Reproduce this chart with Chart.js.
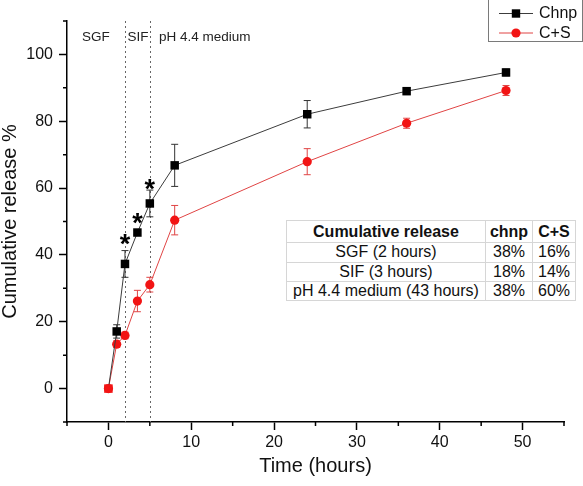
<!DOCTYPE html>
<html>
<head>
<meta charset="utf-8">
<script src="https://cdn.jsdelivr.net/npm/chart.js@4.4.1/dist/chart.umd.min.js"></script>
<style>
body { margin: 0; background: #fff; }
#wrap { position: relative; width: 583px; height: 486px; }
#releaseTable {
    position: absolute; left: 286px; top: 220px; width: 289px;
    border-collapse: collapse; table-layout: fixed; background: #fff;
    border: 1.5px solid #8a8a8a;
    font-family: "Liberation Sans", Arial, sans-serif; font-size: 16px; color: #111;
}
#releaseTable td { border: 1px solid #d6d6d6; padding: 0; text-align: center; line-height: 1; white-space: nowrap; }
#releaseTable tr.head td { font-weight: bold; height: 21px; }
</style>
</head>
<body>
<div id="wrap">
<canvas id="canvas" width="583" height="486"></canvas>
<table id="releaseTable"></table>
</div>
<script>
// time points (hours) and cumulative release values (%)
var hours = [0, 1, 2, 3.5, 5, 8, 24, 36, 48];
var chnpRelease = [0, 17.1, 37.3, 46.7, 55.4, 66.8, 82.1, 89.0, 94.6];
var chnpError   = [0, 2.0, 4.0, 0.6, 4.0, 6.3, 4.1, 1.0, 1.0];
var csRelease   = [0, 13.3, 15.9, 26.2, 31.1, 50.4, 67.9, 79.4, 89.2];
var csError     = [0, 1.0, 1.0, 3.2, 2.2, 4.4, 3.9, 1.5, 1.5];

// significance marks
var starHours  = [2, 3.5, 5];
var starLevels = [45.3, 51.6, 61.6];

// medium changes
var phaseBounds = [2, 5];
var phaseNames  = ["SGF", "SIF", "pH 4.4 medium"];
var phaseStart  = [-3.2, 2.3, 6.1];
var phaseLevel  = 105.2;

var xTickLabels = [0, 10, 20, 30, 40, 50];
var yTickLabels = [0, 20, 40, 60, 80, 100];

// inset table
var tableHeader = ["Cumulative release", "chnp", "C+S"];
var tableStages = ["SGF (2 hours)", "SIF (3 hours)", "pH 4.4 medium (43 hours)"];
var tableChnp   = ["38%", "18%", "38%"];
var tableCS     = ["16%", "14%", "60%"];

var FONT = '"Liberation Sans", Arial, sans-serif';
var RED = "#f21414";
var RED_LINE = "#e04444";

// build table
var tbl = document.getElementById("releaseTable");
var html = '<colgroup><col style="width:199px"><col style="width:47px"><col style="width:43px"></colgroup>';
html += '<tr class="head"><td>' + tableHeader.join('</td><td>') + '</td></tr>';
var rowH = [19.5, 19, 19.5];
for (var r = 0; r < tableStages.length; r++) {
    html += '<tr style="height:' + rowH[r] + 'px"><td>' + tableStages[r] + '</td><td>' + tableChnp[r] + '</td><td>' + tableCS[r] + '</td></tr>';
}
tbl.innerHTML = html;

function toPoints(xs, ys) {
    var out = [];
    for (var i = 0; i < xs.length; i++) out.push({x: xs[i], y: ys[i]});
    return out;
}

function drawErrorBars(chart, ys, errs, color) {
    var ctx = chart.ctx, xs = chart.scales.x, yS = chart.scales.y;
    ctx.save();
    ctx.strokeStyle = color;
    ctx.lineWidth = 1;
    for (var i = 0; i < hours.length; i++) {
        if (!errs[i]) continue;
        var px = xs.getPixelForValue(hours[i]);
        var top = yS.getPixelForValue(ys[i] + errs[i]);
        var bot = yS.getPixelForValue(ys[i] - errs[i]);
        ctx.beginPath();
        ctx.moveTo(px, top); ctx.lineTo(px, bot);
        ctx.moveTo(px - 3.5, top); ctx.lineTo(px + 3.5, top);
        ctx.moveTo(px - 3.5, bot); ctx.lineTo(px + 3.5, bot);
        ctx.stroke();
    }
    ctx.restore();
}

var extras = {
    id: "releaseExtras",
    beforeDatasetsDraw: function(chart) {
        var ctx = chart.ctx, a = chart.chartArea, xs = chart.scales.x;
        ctx.save();
        ctx.strokeStyle = "#666";
        ctx.lineWidth = 1;
        ctx.setLineDash([2, 3]);
        phaseBounds.forEach(function(b) {
            var px = Math.round(xs.getPixelForValue(b)) + 0.5;
            ctx.beginPath();
            ctx.moveTo(px, a.top);
            ctx.lineTo(px, a.bottom);
            ctx.stroke();
        });
        ctx.restore();
        drawErrorBars(chart, chnpRelease, chnpError, "#333");
        drawErrorBars(chart, csRelease, csError, RED_LINE);
    },
    afterDatasetsDraw: function(chart) {
        var ctx = chart.ctx, xs = chart.scales.x, yS = chart.scales.y;
        ctx.save();
        ctx.fillStyle = "#000";
        ctx.font = "bold 27px " + FONT;
        ctx.textAlign = "center";
        ctx.textBaseline = "alphabetic";
        for (var i = 0; i < starHours.length; i++) {
            ctx.fillText("*", xs.getPixelForValue(starHours[i]), yS.getPixelForValue(starLevels[i]) + 27 * 0.57);
        }
        ctx.restore();
    },
    afterDraw: function(chart) {
        var ctx = chart.ctx, a = chart.chartArea, xs = chart.scales.x, yS = chart.scales.y;
        ctx.save();
        // minor ticks
        ctx.strokeStyle = "#000";
        ctx.lineWidth = 1.5;
        ctx.beginPath();
        xs.ticks.forEach(function(t) {
            if (xTickLabels.indexOf(t.value) >= 0) return;
            var px = xs.getPixelForValue(t.value);
            ctx.moveTo(px, a.bottom); ctx.lineTo(px, a.bottom + 4);
        });
        yS.ticks.forEach(function(t) {
            if (yTickLabels.indexOf(t.value) >= 0) return;
            var py = yS.getPixelForValue(t.value);
            ctx.moveTo(a.left, py); ctx.lineTo(a.left - 4, py);
        });
        ctx.stroke();

        // medium labels
        ctx.fillStyle = "#222";
        ctx.font = "13.5px " + FONT;
        ctx.textAlign = "left";
        ctx.textBaseline = "middle";
        for (var i = 0; i < phaseNames.length; i++) {
            ctx.fillText(phaseNames[i], xs.getPixelForValue(phaseStart[i]), yS.getPixelForValue(phaseLevel));
        }

        // legend box
        var ds = chart.data.datasets;
        ctx.strokeStyle = "#7a7a7a";
        ctx.lineWidth = 1;
        ctx.strokeRect(488.5, -0.5, 94, 42);
        var rows = [13.5, 33];
        ctx.font = "16px " + FONT;
        ctx.fillStyle = "#111";
        for (var k = 0; k < ds.length; k++) {
            var ly = rows[k];
            ctx.strokeStyle = ds[k].borderColor;
            ctx.beginPath();
            ctx.moveTo(499, ly); ctx.lineTo(533, ly);
            ctx.stroke();
            ctx.fillStyle = k === 0 ? "#000" : RED;
            ctx.beginPath();
            if (k === 0) ctx.rect(516 - 4.2, ly - 4.2, 8.4, 8.4);
            else ctx.arc(516, ly, 4.6, 0, Math.PI * 2);
            ctx.fill();
            ctx.fillStyle = "#111";
            ctx.fillText(ds[k].label, 539, ly + 0.5);
        }
        ctx.restore();
    }
};

var ctx = document.getElementById("canvas").getContext("2d");
var chart = new Chart(ctx, {
    type: "line",
    data: {
        datasets: [
            {
                label: "Chnp",
                data: toPoints(hours, chnpRelease),
                borderColor: "#3c3c3c",
                borderWidth: 1,
                pointStyle: "rect",
                pointRadius: 6,
                pointBorderWidth: 0,
                pointBackgroundColor: function(c) { return c.dataIndex === 0 ? RED : "#000"; },
                tension: 0
            },
            {
                label: "C+S",
                data: toPoints(hours, csRelease),
                borderColor: RED_LINE,
                borderWidth: 1,
                pointStyle: "circle",
                pointRadius: 4.6,
                pointBorderWidth: 0,
                pointBackgroundColor: RED,
                tension: 0
            }
        ]
    },
    options: {
        responsive: false,
        animation: false,
        devicePixelRatio: 1,
        layout: { padding: { top: 21, right: 19, left: 0, bottom: 0 } },
        plugins: { legend: { display: false }, tooltip: { enabled: false } },
        scales: {
            x: {
                type: "linear",
                min: -5, max: 55,
                afterFit: function(s) { s.height = 64; },
                ticks: {
                    stepSize: 5, autoSkip: false, maxRotation: 0, padding: 3,
                    color: "#111", font: { family: FONT, size: 16 },
                    callback: function(v) { return xTickLabels.indexOf(v) >= 0 ? String(v) : ""; }
                },
                grid: {
                    drawOnChartArea: false, tickLength: 8, tickWidth: 1.5,
                    tickColor: function(c) { return c.tick && xTickLabels.indexOf(c.tick.value) >= 0 ? "#000" : "rgba(0,0,0,0)"; }
                },
                border: { color: "#000", width: 1.5 },
                title: { display: true, text: "Time (hours)", color: "#111", font: { family: FONT, size: 20 }, padding: { top: 0, bottom: 8 } }
            },
            y: {
                min: -10, max: 110,
                afterFit: function(s) { s.width = 67; },
                ticks: {
                    stepSize: 10, autoSkip: false, padding: 6,
                    color: "#111", font: { family: FONT, size: 16 },
                    callback: function(v) { return yTickLabels.indexOf(v) >= 0 ? String(v) : ""; }
                },
                grid: {
                    drawOnChartArea: false, tickLength: 8, tickWidth: 1.5,
                    tickColor: function(c) { return c.tick && yTickLabels.indexOf(c.tick.value) >= 0 ? "#000" : "rgba(0,0,0,0)"; }
                },
                border: { color: "#000", width: 1.5 },
                title: { display: true, text: "Cumulative release %", color: "#111", font: { family: FONT, size: 20, lineHeight: 1 }, padding: { top: 0 } }
            }
        }
    },
    plugins: [extras]
});
</script>
</body>
</html>
